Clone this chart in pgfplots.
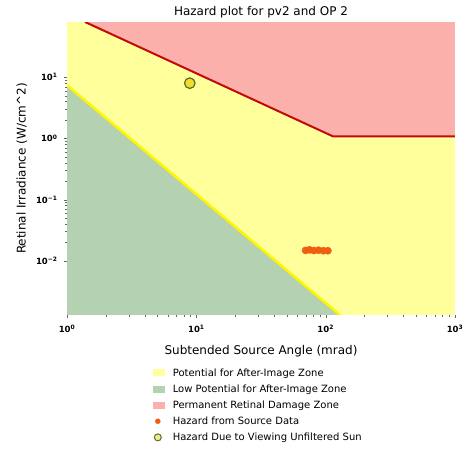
\documentclass[border=0pt]{standalone}
\usepackage{fontspec}
\setmainfont{DejaVu Sans}
\usepackage{pgfplots}
\pgfplotsset{compat=1.18}
\definecolor{zoneyellow}{RGB}{255,255,155}
\definecolor{zonegreen}{RGB}{180,210,178}
\definecolor{zonered}{RGB}{252,176,172}
\definecolor{redline}{RGB}{195,10,10}
\definecolor{yline}{RGB}{255,245,0}
\definecolor{hazorange}{RGB}{240,95,15}
\definecolor{sunedge}{RGB}{85,110,45}
\definecolor{sunfill}{RGB}{238,222,40}

\pgfplotsset{
  patch legend/.style={legend image code/.code={\fill[##1] (0pt,-3.5pt) rectangle (12pt,3.5pt); \path[draw=none,fill=none] (0pt,0pt) -- (18pt,0pt);}},
  dot legend/.style={legend image code/.code={\draw[##1,only marks,mark size=2.5pt] plot coordinates {(5pt,0pt)}; \path[draw=none,fill=none] (0pt,0pt) -- (18pt,0pt);}},
}

\begin{document}
\begin{tikzpicture}
\begin{axis}[
  xmode=log, ymode=log,
  scale only axis, width=388pt, height=293pt,
  xmin=1, xmax=1000, ymin=1.3e-3, ymax=80,
  axis line style={draw=none},
  axis on top,
  xtick={1,10,100,1000},
  xticklabels={10\textsuperscript{0},10\textsuperscript{1},10\textsuperscript{2},10\textsuperscript{3}},
  ytick={0.01,0.1,1,10},
  yticklabels={10\textsuperscript{−2},10\textsuperscript{−1},10\textsuperscript{0},10\textsuperscript{1}},
  xtick pos=bottom, ytick pos=left,
  tick align=outside,
  major tick length=3pt, minor tick length=2pt,
  tick style={black!60},
  ticklabel style={font=\fontsize{8.5}{10}\selectfont\bfseries},
  xticklabel style={yshift=-4pt},
  yticklabel style={xshift=-3pt},
  title={Hazard plot for pv2 and OP 2},
  title style={font=\fontsize{12}{14}\selectfont, yshift=-6pt},
  xlabel={Subtended Source Angle (mrad)},
  ylabel={Retinal Irradiance (W/cm\textasciicircum 2)},
  label style={font=\fontsize{12}{14}\selectfont},
  xlabel style={yshift=-6pt},
  ylabel style={yshift=2pt},
  legend style={at={(0.213,-0.168)}, anchor=north west, draw=none, fill=none,
    font=\fontsize{10}{12}\selectfont, row sep=3pt},
  legend cell align=left,
]
% background: potential for after-image
\addplot[draw=none, fill=zoneyellow, patch legend] coordinates {
  (1,1.3e-3) (1000,1.3e-3) (1000,80) (1,80)} -- cycle;
\addlegendentry{Potential for After-Image Zone}
% low potential region below the yellow boundary
\addplot[draw=none, fill=zonegreen, patch legend] coordinates {
  (1,7.4) (129,1.3e-3) (1,1.3e-3)} -- cycle;
\addlegendentry{Low Potential for After-Image Zone}
% permanent damage above the red boundary
\addplot[draw=none, fill=zonered, patch legend] coordinates {
  (1.38,80) (114,1.08) (1000,1.08) (1000,80)} -- cycle;
\addlegendentry{Permanent Retinal Damage Zone}
% boundary lines
\addplot[redline, line width=2pt, forget plot] coordinates {(1.38,80) (114,1.08) (1000,1.08)};
\addplot[yline, line width=2.5pt, forget plot] coordinates {(1,7.4) (129,1.3e-3)};
% measured source data
\addplot[only marks, mark=*, mark size=3.6pt, hazorange, dot legend] coordinates {
  (70,0.0148) (75,0.0151) (81,0.0147) (88,0.0149) (96,0.0146) (104,0.0146)};
\addlegendentry{Hazard from Source Data}
\addplot[only marks, mark=*, mark size=5.3pt, draw=sunedge, fill=sunfill, line width=1.2pt,
  legend image code/.code={\draw[only marks,mark=*,mark size=3.5pt,draw=sunedge,fill=sunfill!60,line width=1pt] plot coordinates {(5pt,0pt)}; \path[draw=none,fill=none] (0pt,0pt) -- (18pt,0pt);}]
  coordinates {(8.9,8.0)};
\addlegendentry{Hazard Due to Viewing Unfiltered Sun}
\coordinate (bbl) at (rel axis cs:-0.1727,-0.4642);
\coordinate (btr) at (rel axis cs:1.049,1.0751);
\end{axis}
\pgfresetboundingbox
\path (bbl) rectangle (btr);
\end{tikzpicture}
\end{document}
